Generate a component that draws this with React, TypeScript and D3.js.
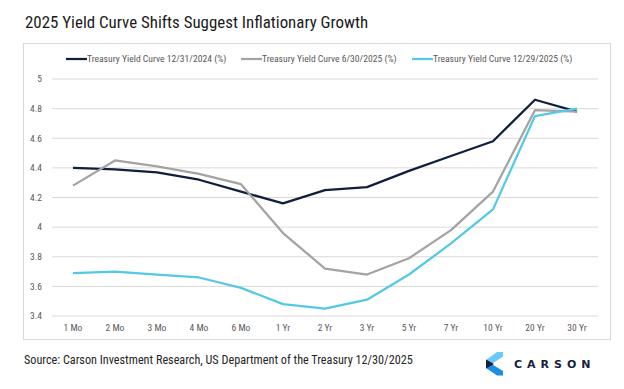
import { useEffect, useRef } from "react";
import * as d3 from "d3";

const tenors = ["1 Mo", "2 Mo", "3 Mo", "4 Mo", "6 Mo", "1 Yr", "2 Yr", "3 Yr", "5 Yr", "7 Yr", "10 Yr", "20 Yr", "30 Yr"];
const curveDec2024 = [4.4, 4.39, 4.37, 4.32, 4.24, 4.16, 4.25, 4.27, 4.38, 4.48, 4.58, 4.86, 4.78];
const curveJun2025 = [4.28, 4.45, 4.41, 4.36, 4.29, 3.96, 3.72, 3.68, 3.79, 3.98, 4.24, 4.79, 4.78];
const curveDec2025 = [3.69, 3.7, 3.68, 3.66, 3.59, 3.48, 3.45, 3.51, 3.68, 3.89, 4.12, 4.75, 4.8];
const yTicks = [3.4, 3.6, 3.8, 4, 4.2, 4.4, 4.6, 4.8, 5];

const series = [
  { label: "Treasury Yield Curve 12/31/2024 (%)", values: curveDec2024, color: "#0f1f3d" },
  { label: "Treasury Yield Curve 6/30/2025 (%)", values: curveJun2025, color: "#a3a3a3" },
  { label: "Treasury Yield Curve 12/29/2025 (%)", values: curveDec2025, color: "#55c8e8" },
];

const narrow = "'Liberation Sans Narrow', 'Arial Narrow', 'Roboto Condensed', sans-serif";

export default function App() {
  const svgRef = useRef<SVGSVGElement>(null);
  const width = 624;
  const height = 389;

  useEffect(() => {
    const svg = d3.select(svgRef.current);
    svg.selectAll("*").remove();

    svg.append("rect").attr("width", width).attr("height", height).attr("fill", "#fff");

    // title
    svg
      .append("text")
      .attr("x", 25)
      .attr("y", 28)
      .attr("font-family", narrow)
      .attr("font-size", 16.9)
      .attr("fill", "#1a1a1a")
      .text("2025 Yield Curve Shifts Suggest Inflationary Growth");

    // chart frame
    svg
      .append("rect")
      .attr("x", 23.5)
      .attr("y", 43.5)
      .attr("width", 587)
      .attr("height", 296)
      .attr("fill", "none")
      .attr("stroke", "#d9d9d9");

    const x = d3.scaleBand().domain(tenors).range([52, 598]);
    const y = d3.scaleLinear().domain([3.4, 5]).range([316, 79]);

    // gridlines
    svg
      .selectAll(".grid")
      .data(yTicks)
      .enter()
      .append("line")
      .attr("x1", 52)
      .attr("x2", 598)
      .attr("y1", (d) => y(d))
      .attr("y2", (d) => y(d))
      .attr("stroke", "#d9d9d9")
      .attr("stroke-width", 1);

    // y labels
    svg
      .selectAll(".ylab")
      .data(yTicks)
      .enter()
      .append("text")
      .attr("x", 42)
      .attr("y", (d) => y(d))
      .attr("dy", "0.35em")
      .attr("text-anchor", "end")
      .attr("font-family", narrow)
      .attr("font-size", 9.5)
      .attr("fill", "#595959")
      .text((d) => d3.format("~g")(d));

    // x labels
    svg
      .selectAll(".xlab")
      .data(tenors)
      .enter()
      .append("text")
      .attr("x", (d) => x(d)! + x.bandwidth() / 2)
      .attr("y", 328)
      .attr("dy", "0.35em")
      .attr("text-anchor", "middle")
      .attr("font-family", narrow)
      .attr("font-size", 9.5)
      .attr("fill", "#595959")
      .text((d) => d);

    const line = d3
      .line<number>()
      .x((_, i) => x(tenors[i])! + x.bandwidth() / 2)
      .y((d) => y(d));

    svg
      .selectAll(".series")
      .data(series)
      .enter()
      .append("path")
      .attr("d", (d) => line(d.values))
      .attr("fill", "none")
      .attr("stroke", (d) => d.color)
      .attr("stroke-width", 2.25)
      .attr("stroke-linejoin", "round");

    // legend
    const legendX = [66, 241, 412];
    const legend = svg
      .selectAll(".legend")
      .data(series)
      .enter()
      .append("g")
      .attr("transform", (_, i) => `translate(${legendX[i]}, 59)`);

    legend
      .append("line")
      .attr("x1", 0)
      .attr("x2", 21)
      .attr("stroke", (d) => d.color)
      .attr("stroke-width", 2.25);

    legend
      .append("text")
      .attr("x", 21)
      .attr("dy", "0.35em")
      .attr("font-family", narrow)
      .attr("font-size", 9.65)
      .attr("fill", "#595959")
      .text((d) => d.label);

    // source
    svg
      .append("text")
      .attr("x", 24)
      .attr("y", 364)
      .attr("font-family", narrow)
      .attr("font-size", 12.2)
      .attr("fill", "#262626")
      .text("Source: Carson Investment Research, US Department of the Treasury 12/30/2025");

    // logo
    const logo = svg.append("g");
    logo
      .append("polygon")
      .attr("points", "497,352 503,352 503,356.5 491.5,364 486,364 486,360")
      .attr("fill", "#6cc9f7");
    logo
      .append("polygon")
      .attr("points", "486,364 491.5,364 503,371 503,375.5 497,375.5 486,368")
      .attr("fill", "#1a8fe3");
    logo
      .append("polygon")
      .attr("points", "486,359.5 494,364 486,368.5")
      .attr("fill", "#13223f");
    logo
      .append("text")
      .attr("x", 514)
      .attr("y", 367.5)
      .attr("font-family", "'DejaVu Sans', sans-serif")
      .attr("font-weight", "bold")
      .attr("font-size", 11)
      .attr("letter-spacing", 5)
      .attr("fill", "#13223f")
      .text("CARSON");
  }, []);

  return (
    <svg
      ref={svgRef}
      width={width}
      height={height}
      style={{ position: "absolute", left: 0, top: 0 }}
    ></svg>
  );
}
